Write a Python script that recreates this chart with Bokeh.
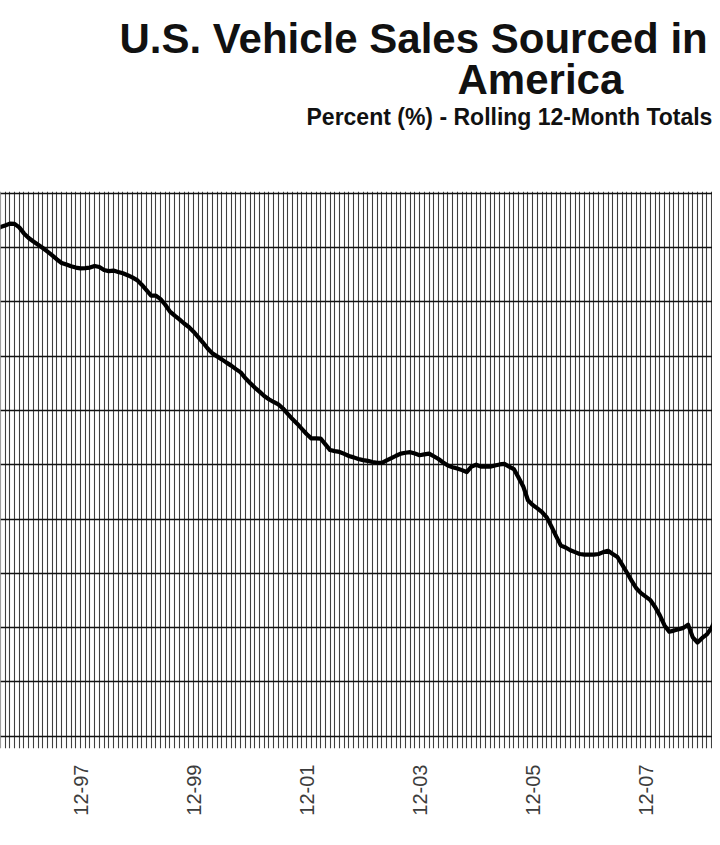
import math
import pandas as pd
from bokeh.plotting import figure
from bokeh.models import FixedTicker, Title
from bokeh.embed import file_html
from bokeh.resources import INLINE

# ---------------- data ----------------
start_month = "1996-06"
share_pct = [
    86.66, 86.75, 86.81, 86.88, 86.87, 86.74, 86.52, 86.35, 86.22, 86.10,
    85.98, 85.85, 85.71, 85.56, 85.43, 85.37, 85.31, 85.26, 85.23, 85.24,
    85.26, 85.32, 85.28, 85.17, 85.13, 85.15, 85.10, 85.05, 84.98, 84.90,
    84.80, 84.63, 84.43, 84.23, 84.23, 84.10, 83.89, 83.64, 83.49, 83.35,
    83.20, 83.07, 82.90, 82.70, 82.50, 82.28, 82.10, 81.99, 81.88, 81.76,
    81.65, 81.52, 81.40, 81.19, 81.01, 80.84, 80.69, 80.53, 80.41, 80.31,
    80.22, 80.07, 79.87, 79.68, 79.51, 79.32, 79.13, 78.97, 78.97, 78.96,
    78.75, 78.54, 78.50, 78.47, 78.40, 78.32, 78.27, 78.21, 78.17, 78.14,
    78.10, 78.07, 78.07, 78.16, 78.24, 78.33, 78.41, 78.44, 78.46, 78.41,
    78.35, 78.38, 78.41, 78.31, 78.21, 78.08, 77.97, 77.91, 77.86, 77.80,
    77.73, 77.93, 78.00, 77.93, 77.93, 77.93, 77.97, 78.01, 78.03, 77.93,
    77.84, 77.53, 77.20, 76.69, 76.52, 76.39, 76.25, 76.06, 75.72, 75.36,
    75.02, 74.95, 74.85, 74.78, 74.71, 74.69, 74.69, 74.69, 74.71, 74.78,
    74.83, 74.71, 74.60, 74.32, 74.03, 73.73, 73.45, 73.27, 73.14, 73.01,
    72.76, 72.45, 72.08, 71.85, 71.89, 71.94, 71.99, 72.11, 71.64, 71.45,
    71.62, 71.75, 72.00, 72.36, 72.92,
]
tick_months = ["1997-12", "1999-12", "2001-12", "2003-12", "2005-12", "2007-12"]
tick_labels = ["12-97", "12-99", "12-01", "12-03", "12-05", "12-07"]
y_grid_values = [68, 70, 72, 74, 76, 78, 80, 82, 84, 86, 88]

title_line1 = "U.S. Vehicle Sales Sourced in"
title_line2 = "America"
subtitle = "Percent (%) - Rolling 12-Month Totals"

# ---------------- derived ----------------
start = pd.Period(start_month, freq="M")
x_idx = list(range(len(share_pct)))
tick_idx = [(pd.Period(t, freq="M") - start).n for t in tick_months]

# layout geometry (figure pixels)
PX_PER_MONTH = 4.71
REF_PX = 80           # x of first labelled tick
REF_IDX = tick_idx[0]
FRAME_TOP = 191
FRAME_BOTTOM = 748
GRID_TOP_PX = 192.7
PX_PER_UNIT = 27.15
W, H = 712, 830


def px2x(px):
    return REF_IDX + (px - REF_PX) / PX_PER_MONTH


def px2y(py):
    return y_grid_values[-1] - (py - GRID_TOP_PX) / PX_PER_UNIT


p = figure(
    width=W, height=H,
    output_backend="svg", toolbar_location=None,
    x_range=(px2x(0), px2x(W)), y_range=(px2y(FRAME_BOTTOM), px2y(FRAME_TOP)),
    y_axis_location=None,
    min_border_left=0, min_border_right=0,
    min_border_top=FRAME_TOP,
    min_border_bottom=H - FRAME_BOTTOM,
)
p.outline_line_color = None
p.background_fill_color = "white"
p.border_fill_color = "white"

# grids
p.xgrid.ticker = FixedTicker(ticks=list(range(-2, len(share_pct) + 2)))
p.xgrid.grid_line_color = "black"
p.xgrid.grid_line_width = 1.1
p.xgrid.grid_line_alpha = 0.75
p.ygrid.ticker = FixedTicker(ticks=y_grid_values)
p.ygrid.grid_line_color = "#111111"
p.ygrid.grid_line_width = 1.6

# x axis
ax = p.xaxis[0]
ax.ticker = FixedTicker(ticks=tick_idx)
ax.major_label_overrides = {i: lab for i, lab in zip(tick_idx, tick_labels)}
ax.major_label_orientation = math.pi / 2
ax.axis_line_color = None
ax.major_tick_line_color = None
ax.minor_tick_line_color = None
ax.major_label_standoff = 10
ax.major_label_text_font = "Liberation Sans"
ax.major_label_text_font_size = "20px"
ax.major_label_text_color = "#3c3c3c"

# data line
p.line(x_idx, share_pct, line_color="black", line_width=4.2, line_join="round")

# titles (added nearest-to-plot first); a blank spacer keeps the stack at the top
p.add_layout(Title(text=" ", align="left", standoff=31,
                   text_font="Liberation Sans", text_font_size="10px"), "above")
p.add_layout(Title(text=subtitle, align="left", offset=306,
                   standoff=36, text_font="Liberation Sans",
                   text_font_style="bold", text_font_size="23px",
                   text_color="#111111"), "above")
p.add_layout(Title(text=title_line2, align="left", offset=457,
                   standoff=-39, text_font="Liberation Sans",
                   text_font_style="bold", text_font_size="42px",
                   text_color="#111111"), "above")
p.add_layout(Title(text=title_line1, align="left", offset=119,
                   standoff=24, text_font="Liberation Sans",
                   text_font_style="bold", text_font_size="42px",
                   text_color="#111111"), "above")

open("out.html", "w").write(file_html(p, INLINE))
